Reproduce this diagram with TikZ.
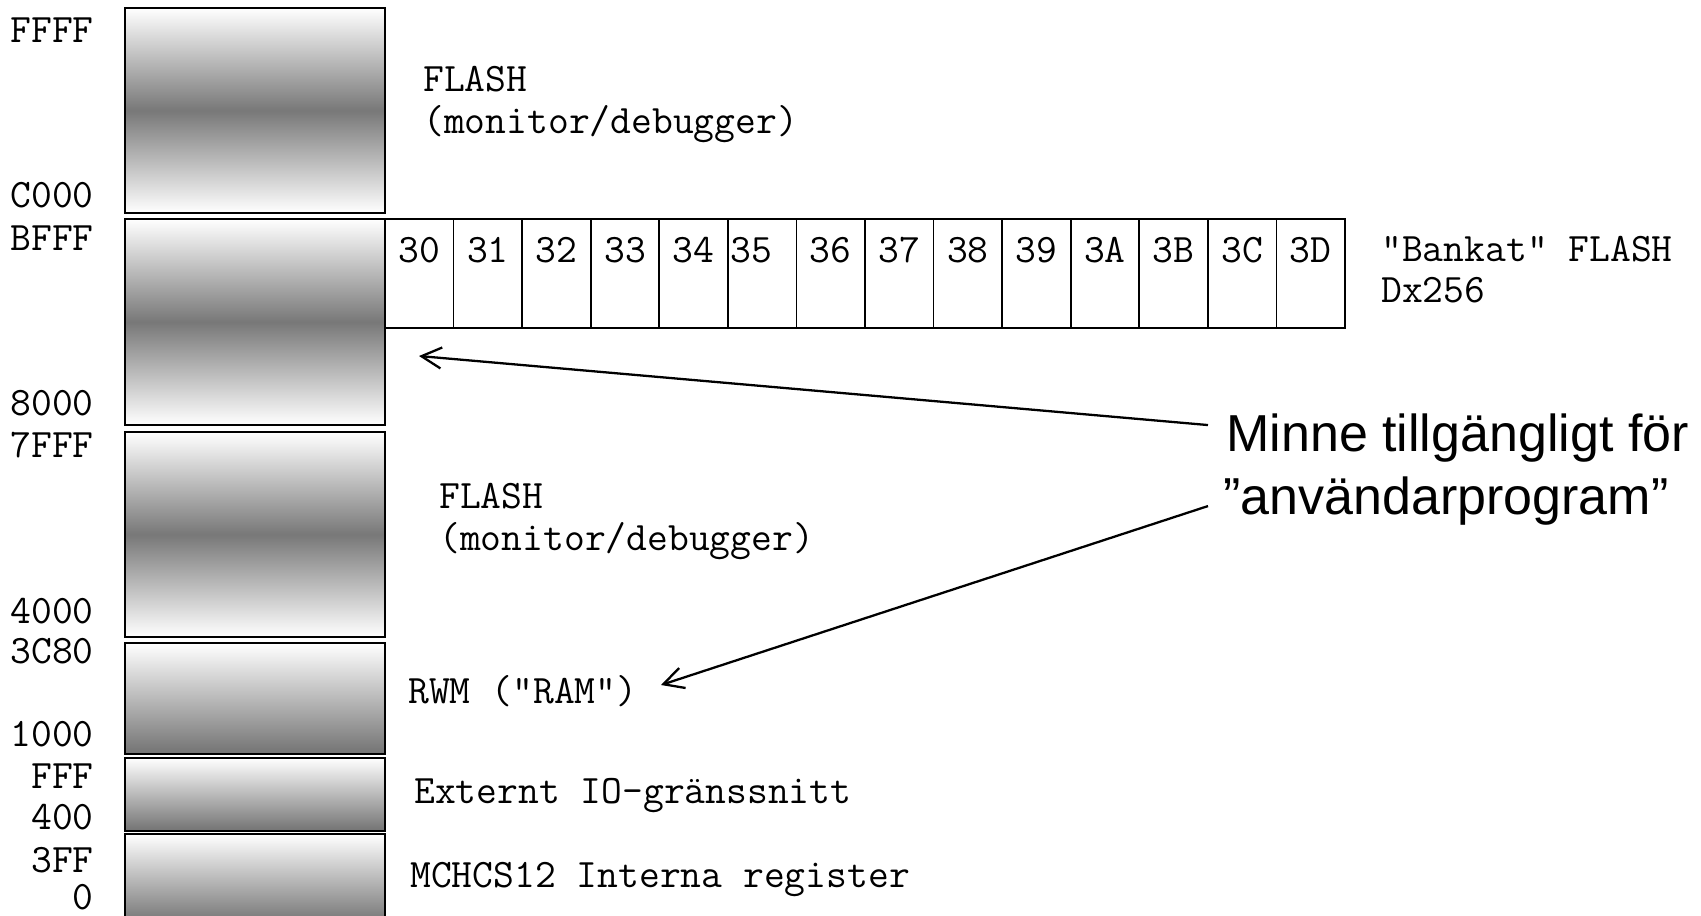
\documentclass[tikz,border=0pt]{standalone}
\usepackage{fontspec}
\newfontfamily\labelsans{Liberation Sans}
\usetikzlibrary{arrows.meta}

\begin{document}
\begin{tikzpicture}[x=0.02cm,y=-0.02cm,
		mono/.style={font=\ttfamily\fontsize{23}{27}\selectfont, inner sep=0pt},
		bigarea/.style={draw, line width=1.1pt, minimum width=5.2cm, top color=white, bottom color=white, middle color=black!53},
		smallarea/.style={draw, line width=1.1pt, minimum width=5.2cm, top color=white, bottom color=black!55},
		bankcell/.style={draw, line width=1pt, minimum width=1.3714cm, minimum height=2.18cm, inner sep=0pt},
		pointer/.style={line width=1.3pt, -{Straight Barb[length=0.4cm,width=0.42cm]}}]
		\useasboundingbox (0,0) rectangle (1701,916);
		\clip (0,0) rectangle (1701,916);
		
		\node[bigarea, minimum height=4.1cm] (flashhi) at (255,110.5) {};
		\node[bigarea, minimum height=4.12cm] (banked) at (255,322) {};
		\node[bigarea, minimum height=4.1cm] (flashlo) at (255,534.5) {};
		\node[smallarea, minimum height=2.22cm] (rwm) at (255,698.5) {};
		\node[smallarea, minimum height=1.46cm] (extio) at (255,794.5) {};
		\node[smallarea, minimum height=1.8cm] (intreg) at (255,879) {};
		
		\foreach \adr/\yb [count=\k] in {FFFF/42, C000/207, BFFF/250, 8000/415, 7FFF/457, 4000/623, 3C80/663, 1000/746, FFF/788, 400/829, 3FF/872, 0/909}
		\node[mono, anchor=base east] (addr\k) at (94,\yb) {\adr};
		
		\foreach \n/\dx [count=\k from 0] in {30/0,31/0,32/0,33/0,34/0,35/-11,36/0,37/0,38/0,39/0,3A/0,3B/0,3C/0,3D/0} {
			\node[bankcell] (bank\n) at ({385+68.57*(\k+0.5)},273.5) {};
			\node[mono, anchor=base] (page\n) at ({385+68.57*(\k+0.5)+\dx},262) {\n};
		}
		
		\node[mono, anchor=base west] (flashhitxt) at (423,91) {FLASH};
		\node[mono, anchor=base west] (flashhisub) at (423,133) {(monitor/debugger)};
		\node[mono, anchor=base west] (bankedtxt) at (1381,261) {”Bankat” FLASH};
		\node[mono, anchor=base west] (bankedsub) at (1381,302) {Dx256};
		\node[mono, anchor=base west] (flashlotxt) at (439,508) {FLASH};
		\node[mono, anchor=base west] (flashlosub) at (439,550) {(monitor/debugger)};
		\node[mono, anchor=base west] (rwmtxt) at (408,703) {RWM (”RAM”)};
		\node[mono, anchor=base west] (extiotxt) at (414,803) {Externt IO-gränssnitt};
		\node[mono, anchor=base west] (intregtxt) at (410,887) {MCHCS12 Interna register};
		
		\node[font=\labelsans\fontsize{29.6}{36}\selectfont, inner sep=0pt, anchor=base west] (usertxtA) at (1226,451) {Minne tillgängligt för};
		\node[font=\labelsans\fontsize{29.6}{36}\selectfont, inner sep=0pt, anchor=base west] (usertxtB) at (1223,514) {”användarprogram”};
		
		\coordinate (tip1) at (419,356);
		\coordinate (tip2) at (661,685);
		\draw[pointer] ([xshift=-0.36cm,yshift=0.25cm]usertxtA.west) -- (tip1);
		\draw[pointer] ([xshift=-0.3cm,yshift=-0.11cm]usertxtB.west) -- (tip2);
		
\end{tikzpicture}
\end{document}
